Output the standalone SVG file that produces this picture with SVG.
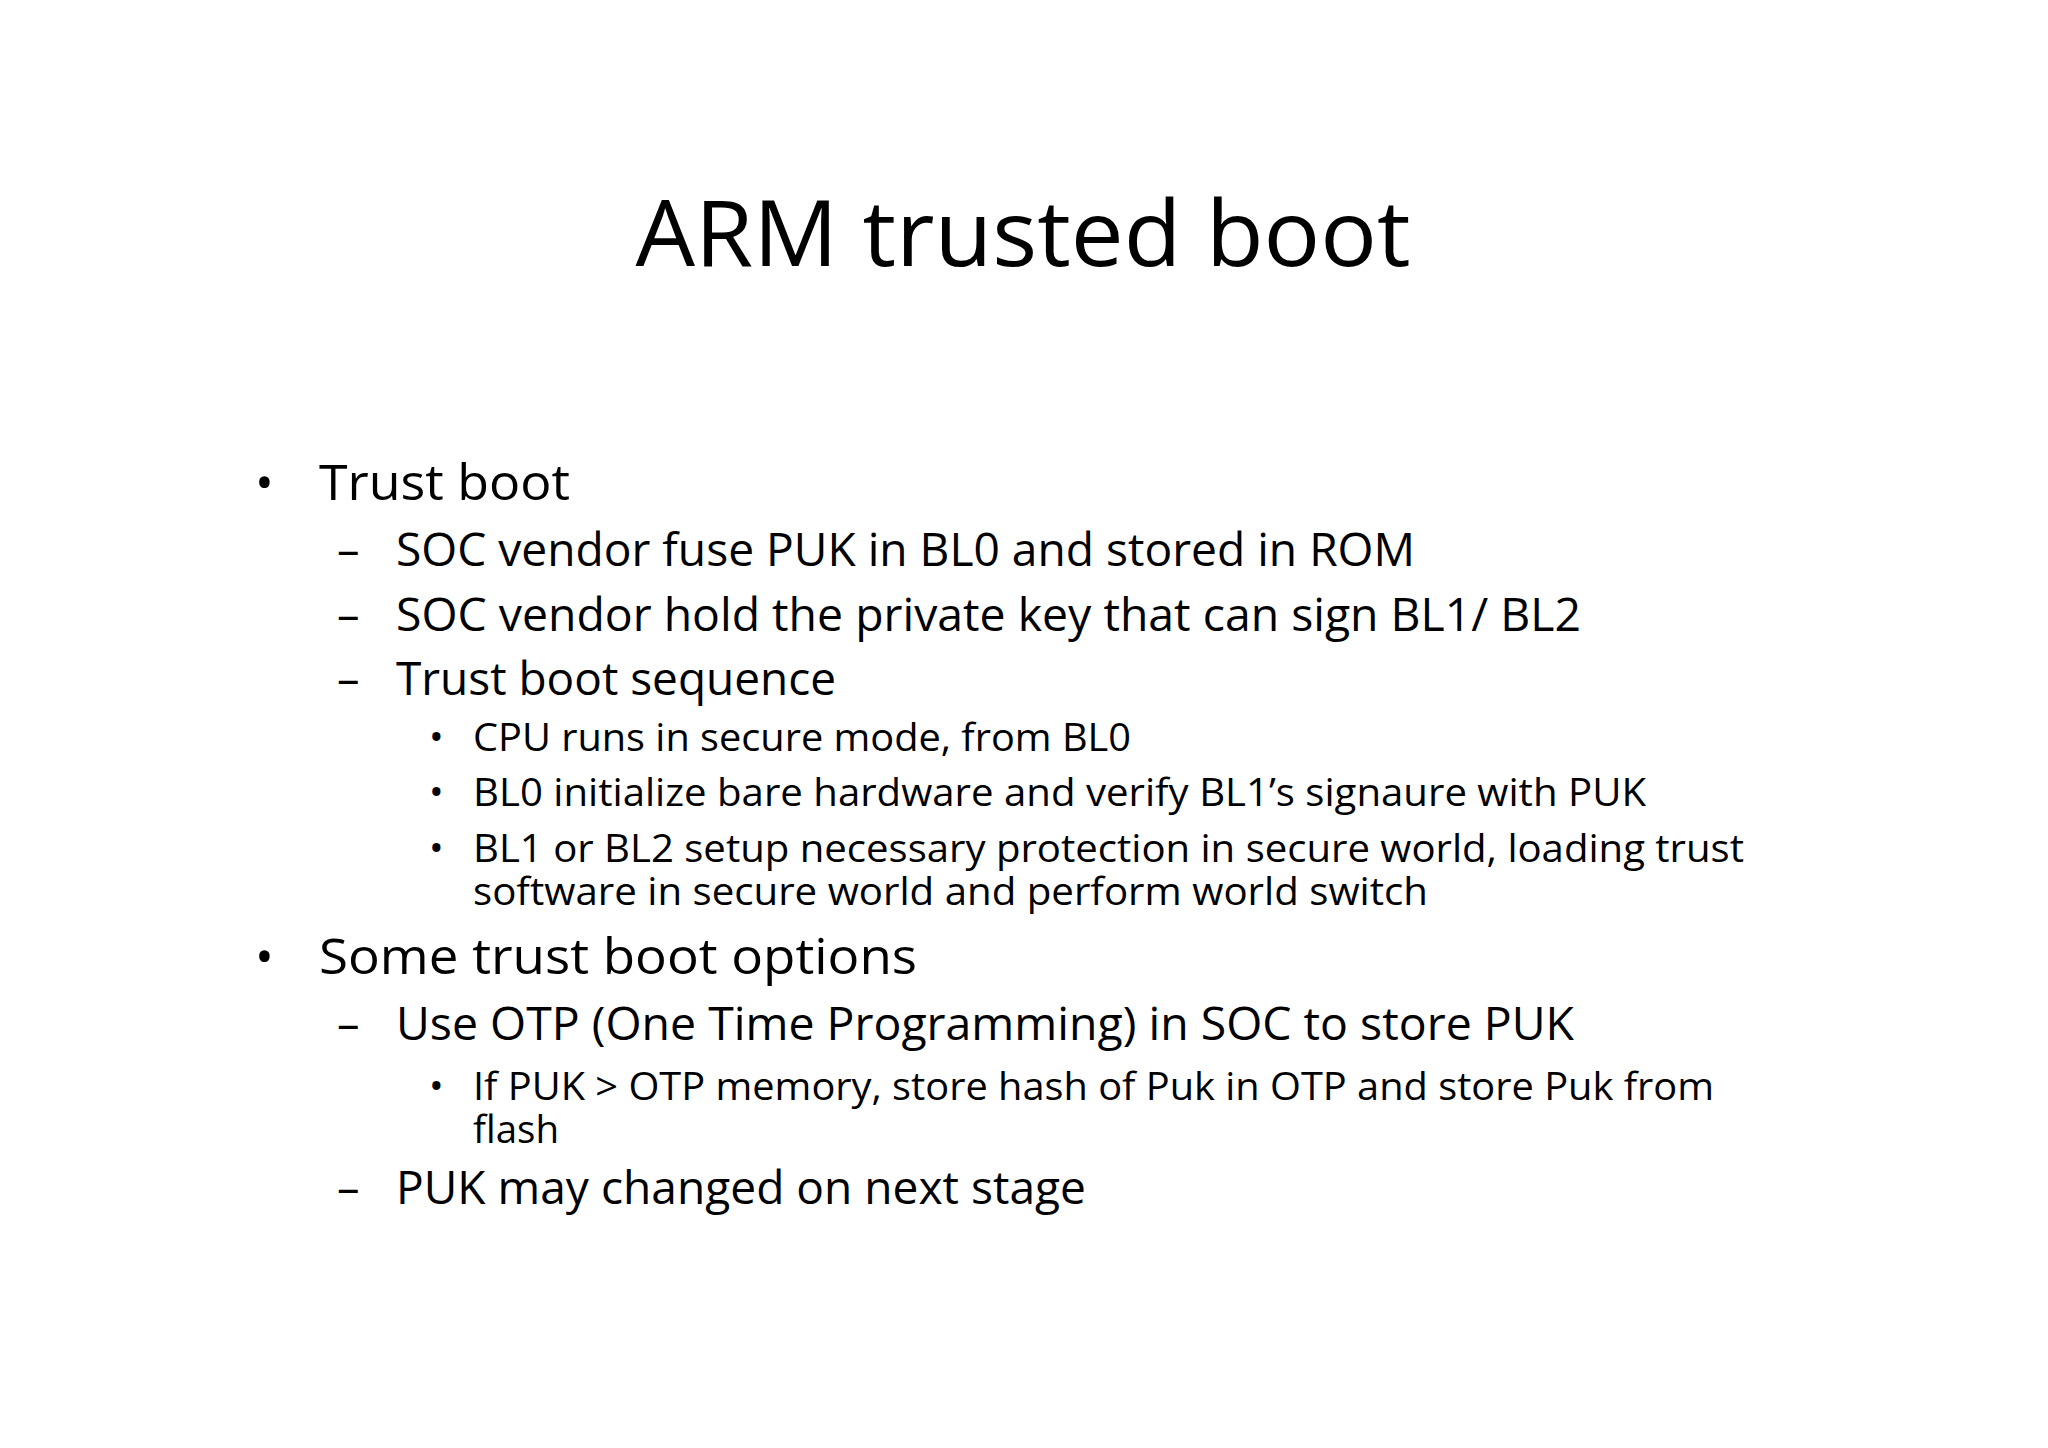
<svg xmlns="http://www.w3.org/2000/svg" width="2048" height="1448" viewBox="0 0 2048 1448">
<style>
text{font-family:"Open Sans","Liberation Sans",sans-serif;fill:#000}
.t{font-size:92px}
.l1{font-size:50px}
.l2{font-size:45px}
.l3{font-size:39px}
</style>
<rect width="2048" height="1448" fill="#fff"/>
<g id="title"><text class="t" x="1023" y="266" text-anchor="middle" textLength="775" lengthAdjust="spacingAndGlyphs">ARM trusted boot</text></g>
<g id="body">
<text class="l1" x="255" y="500">•</text>
<text class="l1" x="319" y="500" textLength="251" lengthAdjust="spacingAndGlyphs">Trust boot</text>
<text class="l2" x="337" y="566">–</text>
<text class="l2" x="396" y="566" textLength="1019" lengthAdjust="spacingAndGlyphs">SOC vendor fuse PUK in BL0 and stored in ROM</text>
<text class="l2" x="337" y="631">–</text>
<text class="l2" x="396" y="631" textLength="1185" lengthAdjust="spacingAndGlyphs">SOC vendor hold the private key that can sign BL1/ BL2</text>
<text class="l2" x="337" y="695">–</text>
<text class="l2" x="396" y="695" textLength="440" lengthAdjust="spacingAndGlyphs">Trust boot sequence</text>
<text class="l3" x="429" y="751">•</text>
<text class="l3" x="473" y="751" textLength="658" lengthAdjust="spacingAndGlyphs">CPU runs in secure mode, from BL0</text>
<text class="l3" x="429" y="806">•</text>
<text class="l3" x="473" y="806" textLength="1173" lengthAdjust="spacingAndGlyphs">BL0 initialize bare hardware and verify BL1’s signaure with PUK</text>
<text class="l3" x="429" y="862">•</text>
<text class="l3" x="473" y="862" textLength="1271" lengthAdjust="spacingAndGlyphs">BL1 or BL2 setup necessary protection in secure world, loading trust</text>
<text class="l3" x="473" y="905" textLength="955" lengthAdjust="spacingAndGlyphs">software in secure world and perform world switch</text>
<text class="l1" x="255" y="974">•</text>
<text class="l1" x="319" y="974" textLength="598" lengthAdjust="spacingAndGlyphs">Some trust boot options</text>
<text class="l2" x="337" y="1040">–</text>
<text class="l2" x="396" y="1040" textLength="1178" lengthAdjust="spacingAndGlyphs">Use OTP (One Time Programming) in SOC to store PUK</text>
<text class="l3" x="429" y="1100">•</text>
<text class="l3" x="473" y="1100" textLength="1241" lengthAdjust="spacingAndGlyphs">If PUK &gt; OTP memory, store hash of Puk in OTP and store Puk from</text>
<text class="l3" x="473" y="1143" textLength="86" lengthAdjust="spacingAndGlyphs">flash</text>
<text class="l2" x="337" y="1204">–</text>
<text class="l2" x="396" y="1204" textLength="690" lengthAdjust="spacingAndGlyphs">PUK may changed on next stage</text>
</g>
</svg>
